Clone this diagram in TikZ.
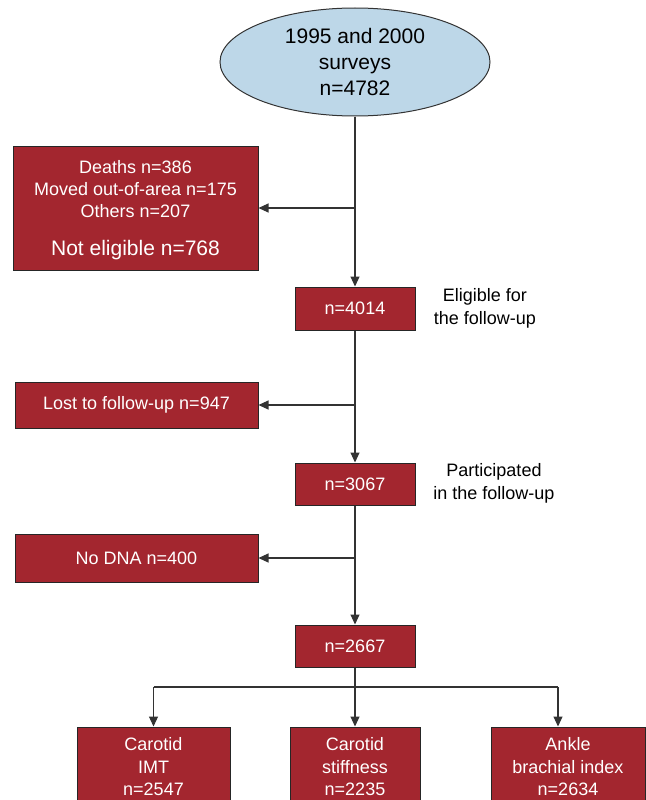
\documentclass[tikz,border=0pt]{standalone}
\usepackage{fontspec}
\setmainfont{Liberation Sans}
\usetikzlibrary{arrows.meta,shapes.geometric}
\definecolor{boxred}{HTML}{A3262F}
\definecolor{ellblue}{HTML}{BDD7E8}
\definecolor{lin}{HTML}{333333}
\tikzset{
  redbox/.style={draw=black!85, line width=1pt, fill=boxred, text=white, inner sep=0pt, align=center,
     font=\fontsize{18}{22.5}\selectfont},
  sidetxt/.style={text=black, align=center, inner sep=0pt, font=\fontsize{18}{23}\selectfont},
  conn/.style={draw=lin, line width=1.1pt},
  arr/.style={conn, -{Triangle[length=10pt,width=9pt]}},
}
\begin{document}
\begin{tikzpicture}[x=1pt,y=-1pt]
\useasboundingbox (0,0) rectangle (645,800);
% top ellipse
\node[ellipse, draw=black!80, line width=1pt, fill=ellblue, minimum width=270pt, minimum height=108pt,
      inner sep=0pt, align=center, font=\fontsize{21}{26}\selectfont] (ell) at (355,62)
      {1995 and 2000\\surveys\\n=4782};
% not eligible box
\node[redbox, minimum width=245pt, minimum height=124pt] (b1) at (135.5,208) {};
\node[text=white, align=center, inner sep=0pt, font=\fontsize{18}{22}\selectfont] (b1t) at (135.5,189)
      {Deaths n=386\\Moved out-of-area n=175\\Others n=207};
\node[text=white, inner sep=0pt, font=\fontsize{21}{25}\selectfont] (b1n) at (135.5,250) {Not eligible n=768};
% main column
\node[redbox, minimum width=120pt, minimum height=43pt] (e1) at (355,308.5) {n=4014};
\node[sidetxt] (s1) at (485,308) {Eligible for\\the follow-up};
\node[redbox, minimum width=243pt, minimum height=46pt] (lost) at (136.5,405) {Lost to follow-up n=947};
\node[redbox, minimum width=120pt, minimum height=42pt] (e2) at (355,484) {n=3067};
\node[sidetxt] (s2) at (494,483) {Participated\\in the follow-up};
\node[redbox, minimum width=243pt, minimum height=48pt] (nodna) at (136.5,558) {No DNA n=400};
\node[redbox, minimum width=120pt, minimum height=42pt] (e3) at (355,646) {n=2667};
% bottom boxes
\node[redbox, minimum width=153pt, minimum height=84pt] (c1) at (153.5,769) {};
\node[redbox, minimum width=130pt, minimum height=84pt] (c2) at (355,769) {};
\node[redbox, minimum width=154pt, minimum height=84pt] (c3) at (568,769) {};
\node[text=white, align=center, inner sep=0pt, font=\fontsize{18}{22.5}\selectfont] (c1t) at (153.5,767) {Carotid\\IMT\\n=2547};
\node[text=white, align=center, inner sep=0pt, font=\fontsize{18}{22.5}\selectfont] (c2t) at (355,767) {Carotid\\stiffness\\n=2235};
\node[text=white, align=center, inner sep=0pt, font=\fontsize{18}{22.5}\selectfont] (c3t) at (568,767) {Ankle\\brachial index\\n=2634};
% connectors
\draw[arr] (ell.south) -- (e1.north);
\draw[arr] (ell.south |- b1.east) -- (b1.east);
\draw[arr] (e1.south) -- (e2.north);
\draw[arr] (e1.south |- lost.east) -- (lost.east);
\draw[arr] (e2.south) -- (e3.north);
\draw[arr] (e2.south |- nodna.east) -- (nodna.east);
\coordinate (br) at (355,687);
\coordinate (c3in) at ([xshift=-10pt]c3.north);
\draw[conn] (e3.south) -- (br);
\draw[conn] (br -| c1.north) -- (br -| c3in);
\draw[arr] (br -| c1.north) -- (c1.north);
\draw[arr] (br) -- (c2.north);
\draw[arr] (br -| c3in) -- (c3in);
\end{tikzpicture}
\end{document}
